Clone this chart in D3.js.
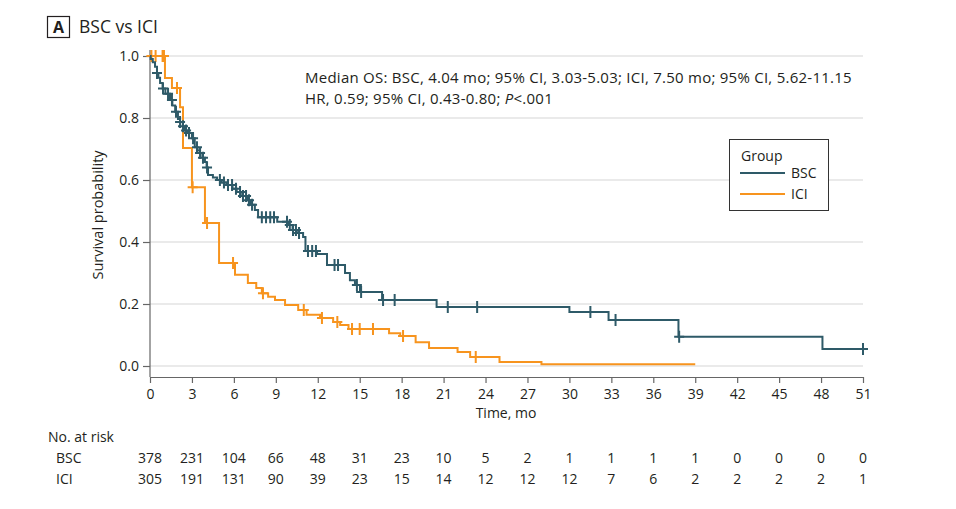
<!DOCTYPE html>
<html><head><meta charset="utf-8">
<script src="https://cdn.jsdelivr.net/npm/d3@7"></script>
<style>
body{margin:0;background:#fff;}
svg text{font-family:"Open Sans",sans-serif;fill:#231f20;}
</style></head>
<body><svg id="c" width="956" height="509"></svg>
<script>
// ---------- data ----------
const xTicks = [0,3,6,9,12,15,18,21,24,27,30,33,36,39,42,45,48,51];
const yTicks = [0,0.2,0.4,0.6,0.8,1.0];
const bscTimes = [0.05,0.2,0.36,0.5,0.6,0.72,0.9,1.1,1.43,1.6,1.8,2.0,2.15,2.35,2.5,2.72,3.0,3.2,3.4,3.58,3.75,3.93,4.05,4.15,4.5,4.8,5.1,5.5,5.9,6.2,6.6,6.94,7.2,7.5,7.73,9.1,9.87,10.2,10.5,10.95,11.12,11.95,12.66,13.95,14.3,14.66,15.02,16.6,20.5,30.0,32.8,37.8,48.1];
const bscSurv  = [0.99,0.98,0.965,0.945,0.93,0.913,0.895,0.878,0.858,0.84,0.82,0.797,0.787,0.773,0.76,0.752,0.735,0.706,0.695,0.687,0.672,0.658,0.64,0.616,0.608,0.60,0.592,0.584,0.572,0.561,0.548,0.535,0.52,0.503,0.48,0.465,0.455,0.439,0.429,0.416,0.371,0.361,0.326,0.30,0.277,0.261,0.239,0.213,0.19,0.174,0.148,0.094,0.055];
const bscEnd = 51.3;
const bscCensor = [0.5,0.93,1.29,1.57,1.86,2.15,2.36,2.58,2.79,3.08,3.36,3.58,3.79,4.08,5.0,5.29,5.58,5.87,6.15,6.44,6.65,6.87,7.08,7.3,8.0,8.3,8.6,8.87,9.8,10.0,10.23,10.44,10.66,11.3,11.6,11.87,13.2,13.45,14.8,15.1,16.67,17.5,21.3,23.4,31.5,33.3,37.85,51.0];
const iciTimes = [1.07,1.57,2.15,2.36,3.0,3.93,4.94,6.08,7.0,7.6,8.0,8.45,8.94,9.66,10.6,11.2,12.16,13.1,13.6,14.2,17.1,17.9,19.0,19.96,22.0,22.9,25.0,28.0];
const iciSurv  = [0.929,0.897,0.835,0.703,0.577,0.461,0.332,0.294,0.268,0.252,0.235,0.223,0.213,0.197,0.181,0.165,0.155,0.142,0.132,0.119,0.106,0.097,0.077,0.058,0.045,0.029,0.013,0.006];
const iciEnd = 39.0;
const iciCensor = [0.1,0.4,0.9,1.0,1.93,3.05,4.08,5.94,8.08,11.0,12.3,13.4,14.45,15.0,15.95,18.1,23.3];
const riskBSC = [378,231,104,66,48,31,23,10,5,2,1,1,1,1,0,0,0,0];
const riskICI = [305,191,131,90,39,23,15,14,12,12,12,7,6,2,2,2,2,1];
const groups = ["BSC","ICI"];
const colors = {BSC:"#2e5a68", ICI:"#f7941e"};

// ---------- layout ----------
const svg = d3.select("#c");
const x = d3.scaleLinear().domain([0,51]).range([150,863]);
const y = d3.scaleLinear().domain([0,1]).range([366,56]);

// title
svg.append("rect").attr("x",47.5).attr("y",16.5).attr("width",22).attr("height",21)
  .attr("fill","none").attr("stroke","#231f20").attr("stroke-width",1.2);
svg.append("text").attr("x",58.5).attr("y",33).attr("text-anchor","middle")
  .attr("font-size",16).attr("font-weight",700).text("A");
svg.append("text").attr("x",79).attr("y",33).attr("font-size",17.5).text("BSC vs ICI");

// gridlines
svg.append("g").selectAll("line").data(yTicks).join("line")
  .attr("x1",150).attr("x2",863).attr("y1",d=>y(d)).attr("y2",d=>y(d))
  .attr("stroke","#e3e3e3").attr("stroke-width",1.5);

// axes
const xAxis = svg.append("g").attr("transform","translate(0,377)")
  .call(d3.axisBottom(x).tickValues(xTicks).tickSize(6).tickSizeOuter(0).tickFormat(d3.format("d")));
const yAxis = svg.append("g").attr("transform","translate(150,0)")
  .call(d3.axisLeft(y).tickValues(yTicks).tickSize(7).tickSizeOuter(0).tickFormat(d3.format(".1f")));
[xAxis,yAxis].forEach(a=>{
  a.select(".domain").attr("stroke","#666").attr("stroke-width",1.2);
  a.selectAll(".tick line").attr("stroke","#666").attr("stroke-width",1.2);
  a.selectAll(".tick text").attr("font-size",14).attr("fill","#231f20").attr("font-family","'Open Sans',sans-serif");
});
yAxis.select(".domain").attr("d","M0,50V377");
xAxis.selectAll(".tick text").attr("dy","0.9em");
yAxis.selectAll(".tick text").attr("dx","-1");

svg.append("text").attr("transform","translate(103,215) rotate(-90)").attr("text-anchor","middle")
  .attr("font-size",14.5).text("Survival probability");
svg.append("text").attr("x",506).attr("y",418).attr("text-anchor","middle")
  .attr("font-size",14).text("Time, mo");

// curves
function stepData(times,surv,end){
  const pts=[[0,1]];
  times.forEach((t,i)=>pts.push([t,surv[i]]));
  pts.push([end,surv[surv.length-1]]);
  return pts;
}
function survAt(times,surv,t){
  let s=1; times.forEach((tt,i)=>{ if(tt<=t) s=surv[i]; }); return s;
}
const line = d3.line().x(d=>x(d[0])).y(d=>y(d[1])).curve(d3.curveStepAfter);
const series = [
  {name:"ICI",times:iciTimes,surv:iciSurv,end:iciEnd,cens:iciCensor},
  {name:"BSC",times:bscTimes,surv:bscSurv,end:bscEnd,cens:bscCensor}
];
series.forEach(s=>{
  const g = svg.append("g");
  g.append("path").attr("d",line(stepData(s.times,s.surv,s.end)))
    .attr("fill","none").attr("stroke",colors[s.name]).attr("stroke-width",2);
  g.selectAll("path.c").data(s.cens).join("path").attr("class","c")
    .attr("d",t=>{const cx=x(t), cy=y(survAt(s.times,s.surv,t));
      return `M${cx-5},${cy}H${cx+5}M${cx},${cy-6}V${cy+6}`;})
    .attr("stroke",colors[s.name]).attr("stroke-width",2).attr("fill","none");
});

// annotation
const ann = svg.append("text").attr("x",305).attr("y",83).attr("font-size",15).attr("letter-spacing",0.25);
ann.text("Median OS: BSC, 4.04 mo; 95% CI, 3.03-5.03; ICI, 7.50 mo; 95% CI, 5.62-11.15");
const ann2 = svg.append("text").attr("x",305).attr("y",104).attr("font-size",15).attr("letter-spacing",0.25);
ann2.append("tspan").text("HR, 0.59; 95% CI, 0.43-0.80; ");
ann2.append("tspan").attr("font-style","italic").text("P");
ann2.append("tspan").text("<.001");

// legend
svg.append("rect").attr("x",729.5).attr("y",139.5).attr("width",99).attr("height",71)
  .attr("fill","#fff").attr("stroke","#333").attr("stroke-width",1);
svg.append("text").attr("x",741).attr("y",161).attr("font-size",14).text("Group");
groups.forEach((gname,i)=>{
  const yy = 173 + i*21;
  svg.append("line").attr("x1",740).attr("x2",785).attr("y1",yy).attr("y2",yy)
    .attr("stroke",colors[gname]).attr("stroke-width",2);
  svg.append("text").attr("x",791).attr("y",yy+5).attr("font-size",14).text(gname);
});

// risk table
svg.append("text").attr("x",48).attr("y",442).attr("font-size",14).text("No. at risk");
[["BSC",riskBSC,463],["ICI",riskICI,484]].forEach(([nm,arr,yy])=>{
  svg.append("text").attr("x",56).attr("y",yy).attr("font-size",14).text(nm);
  svg.append("g").selectAll("text").data(arr).join("text")
    .attr("x",(d,i)=>x(xTicks[i])).attr("y",yy).attr("text-anchor","middle")
    .attr("font-size",14).text(d=>d);
});
</script></body></html>
